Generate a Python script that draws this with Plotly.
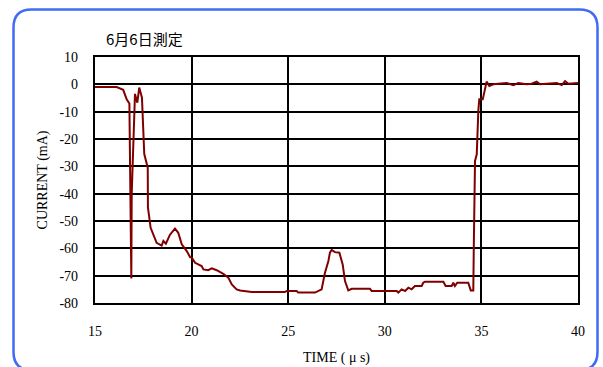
import plotly.graph_objects as go

# Data
time_us = [15.0, 16.12, 16.46, 16.64, 16.78, 16.81, 16.88, 16.90, 16.98, 17.03, 17.07,
           17.19, 17.29, 17.43, 17.55, 17.73, 17.74, 17.88, 18.02, 18.19, 18.45, 18.54,
           18.67, 18.88, 19.14, 19.31, 19.49, 19.75, 19.92, 20.01, 20.18, 20.52, 20.61,
           20.86, 21.04, 21.30, 21.64, 21.90, 22.08, 22.33, 22.51, 23.11, 24.83, 24.92,
           25.44, 25.52, 26.39, 26.56, 26.73, 26.90, 27.08, 27.16, 27.25, 27.42, 27.65,
           27.82, 27.94, 28.11, 28.29, 29.23, 29.32, 30.62, 30.70, 30.87, 31.05, 31.22,
           31.39, 31.56, 31.91, 31.99, 32.08, 33.03, 33.15, 33.46, 33.55, 33.63, 33.75,
           34.32, 34.45, 34.58, 34.59, 34.61, 34.67, 34.76, 34.84, 34.89, 35.07, 35.19,
           35.27, 35.41, 35.62, 35.87, 36.31, 36.65, 36.91, 37.34, 37.60, 37.86, 38.03,
           38.38, 38.90, 39.16, 39.33, 39.50, 39.85, 40.0]
current_ma = [-1, -1, -2, -5.5, -7, -34, -71, -40, -21, -14.5, -3.5,
              -6.7, -1.2, -4.9, -25.5, -30.5, -45, -52.5, -55, -58, -59, -57.3,
              -58.3, -55, -52.8, -54.3, -58.5, -61, -63.2, -63.4, -65.3, -66.5, -67.7,
              -68, -67.3, -68, -69.3, -70.7, -73.2, -75, -75.4, -76, -76, -75.6,
              -75.6, -76.2, -76.2, -75.6, -75, -69, -64.6, -61.6, -60.6, -61.4, -61.6,
              -65.9, -72, -75.4, -74.8, -74.8, -75.6, -75.6, -76.2, -75, -75.6, -74.4,
              -75, -73.8, -73.8, -72.6, -72.2, -72.2, -73.8, -73.8, -72.6, -73.8, -72.6,
              -72.6, -75.4, -75.4, -72, -57.3, -28, -25.6, -9.8, -5.5, -5.5, -1.2,
              1.0, -0.6, 0, 0.2, 0.5, -0.3, 0.5, 0, 0.2, 1.0, 0,
              0.2, 0.5, -0.3, 1.2, 0.2, 0.5, 0.5]

x_ticks = [15, 20, 25, 30, 35, 40]
x_tick_labels = ["15", "20", "25", "30", "35", "40"]
y_ticks = [10, 0, -10, -20, -30, -40, -50, -60, -70, -80]
y_tick_labels = ["10", "0", "-10", "-20", "-30", "-40", "-50", "-60", "-70", "-80"]

W, H = 603, 367
L, R, T, B = 95, 578, 57, 303

fig = go.Figure()
fig.add_trace(go.Scatter(x=time_us, y=current_ma, mode="lines",
                         line=dict(color="#800000", width=2), showlegend=False,
                         hoverinfo="skip"))

serif = "Liberation Serif, Times New Roman, serif"
axis_common = dict(showgrid=True, gridcolor="black", gridwidth=1.7,
                   zeroline=False, showline=True, linecolor="black", linewidth=2.2,
                   mirror=True, ticks="", automargin=False,
                   tickfont=dict(family=serif, size=14, color="black"))

fig.update_xaxes(range=[15, 40], tickvals=x_ticks, ticktext=x_tick_labels,
                 ticklabelstandoff=14,
                 title=dict(text="TIME ( μ s)", font=dict(family=serif, size=14, color="black"),
                            standoff=14),
                 **axis_common)
fig.update_yaxes(range=[-80, 10], tickvals=y_ticks, ticktext=y_tick_labels,
                 ticklabelstandoff=12,
                 title=dict(text="CURRENT (mA)", font=dict(family=serif, size=14, color="black"),
                            standoff=9),
                 **axis_common)

# rounded blue frame in paper coordinates
def px2x(px):
    return (px - L) / (R - L)

def py2y(py):
    return (B - py) / (B - T)

x0, x1, y0, y1, r = 13.5, 597.5, 9.5, 370, 18
path = (f"M {px2x(x0 + r)},{py2y(y0)} L {px2x(x1 - r)},{py2y(y0)} "
        f"Q {px2x(x1)},{py2y(y0)} {px2x(x1)},{py2y(y0 + r)} "
        f"L {px2x(x1)},{py2y(y1 - r)} Q {px2x(x1)},{py2y(y1)} {px2x(x1 - r)},{py2y(y1)} "
        f"L {px2x(x0 + r)},{py2y(y1)} Q {px2x(x0)},{py2y(y1)} {px2x(x0)},{py2y(y1 - r)} "
        f"L {px2x(x0)},{py2y(y0 + r)} Q {px2x(x0)},{py2y(y0)} {px2x(x0 + r)},{py2y(y0)} Z")
fig.add_shape(type="path", path=path, xref="paper", yref="paper",
              line=dict(color="#3f6cf4", width=2.5), layer="above")

fig.add_annotation(text="6月6日測定", xref="paper", yref="paper",
                   x=px2x(104), y=py2y(38), xanchor="left", yanchor="middle",
                   showarrow=False,
                   font=dict(family="Noto Sans CJK JP, sans-serif", size=15, color="black"))

fig.update_layout(width=W, height=H, margin=dict(l=L, r=W - R, t=T, b=H - B),
                  paper_bgcolor="white", plot_bgcolor="white")

fig.write_html("out.html", config={"displayModeBar": False},
               post_script="document.body.style.margin='0';document.body.style.overflow='hidden';")
